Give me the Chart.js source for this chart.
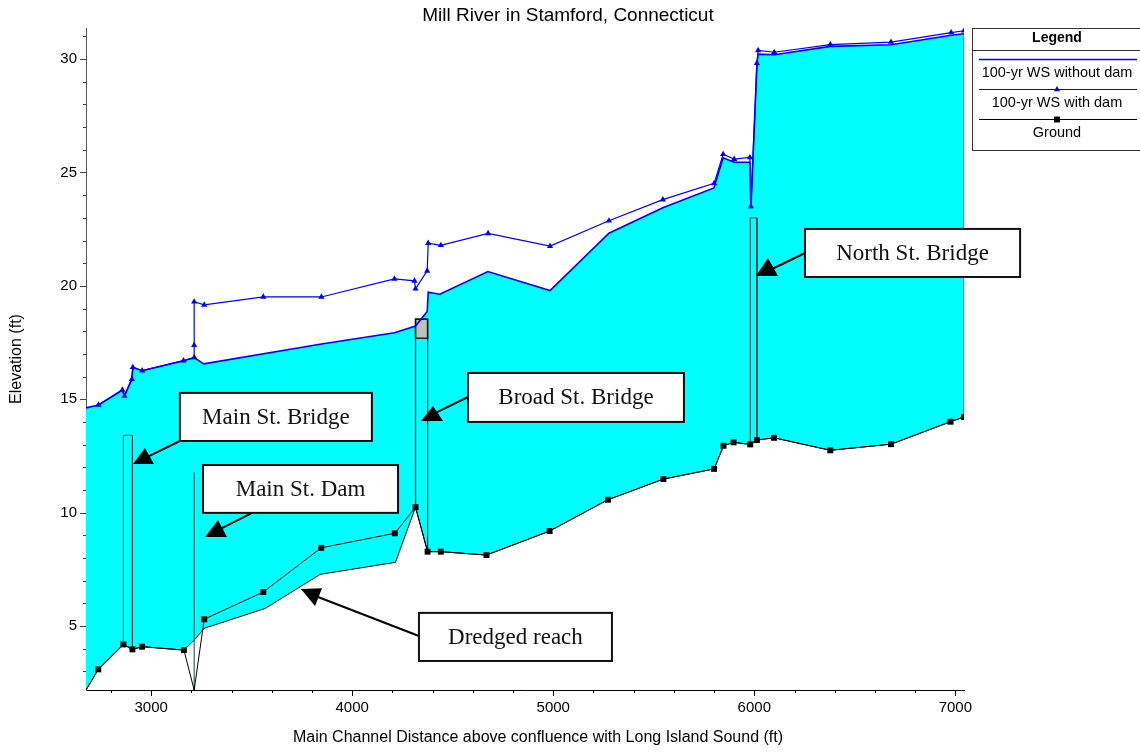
<!DOCTYPE html>
<html><head><meta charset="utf-8">
<script src="https://cdn.jsdelivr.net/npm/chart.js@4/dist/chart.umd.min.js"></script>
<style>html,body{margin:0;padding:0;background:#fff;}canvas{display:block;}</style>
</head><body>
<canvas id="c" width="1140" height="752"></canvas>
<script>
// ---------- text ----------
const chartTitle = 'Mill River in Stamford, Connecticut';
const xAxisTitle = 'Main Channel Distance above confluence with Long Island Sound (ft)';
const yAxisTitle = 'Elevation (ft)';
const legendTitle = 'Legend';
const seriesNames = ['100-yr WS without dam', '100-yr WS with dam', 'Ground'];

// ---------- axes ----------
const xRange = [2676, 7043];
const yRange = [2.18, 31.37];
const xTickStep = 200, xLabelStep = 1000;
const yTickStep = 1, yLabelStep = 5;

// ---------- series ----------
const wsNoDamX = [2676, 2738, 2857, 2867, 2904, 2909, 2955, 3161, 3214, 3262, 3847, 4210, 4315, 4373, 4378, 4436, 4675, 4984, 5277, 5545, 5799, 5845, 5900, 5978, 5983, 6013, 6019, 6099, 6378, 6680, 6979, 7043];
const wsNoDamY = [14.62, 14.75, 15.41, 15.15, 15.88, 16.41, 16.26, 16.70, 16.84, 16.56, 17.44, 17.93, 18.23, 18.87, 19.72, 19.63, 20.63, 19.79, 22.32, 23.44, 24.32, 25.65, 25.45, 25.45, 23.42, 29.75, 30.22, 30.19, 30.56, 30.63, 31.05, 31.12];

const wsDamX = [2738, 2857, 2867, 2904, 2909, 2955, 3161, 3214, 3214, 3214, 3264, 3558, 3847, 4210, 4310, 4315, 4373, 4378, 4441, 4676, 4984, 5277, 5545, 5800, 5845, 5900, 5978, 5983, 6013, 6019, 6099, 6378, 6680, 6979, 7043];
const wsDamY = [14.75, 15.41, 15.15, 15.88, 16.41, 16.26, 16.70, 16.84, 17.38, 19.30, 19.16, 19.51, 19.51, 20.31, 20.22, 19.87, 20.66, 21.88, 21.79, 22.31, 21.75, 22.87, 23.80, 24.52, 25.80, 25.59, 25.66, 23.50, 29.82, 30.38, 30.30, 30.64, 30.75, 31.17, 31.25];

const groundX = [2676, 2737, 2862, 2907, 2955, 3163, 3214, 3264, 3558, 3846, 4212, 4315, 4375, 4441, 4668, 4982, 5272, 5548, 5800, 5847, 5897, 5980, 6013, 6098, 6378, 6680, 6976, 7043];
const groundY = [2.18, 3.09, 4.19, 3.97, 4.09, 3.94, 2.18, 5.30, 6.50, 8.45, 9.09, 10.24, 8.28, 8.28, 8.13, 9.19, 10.57, 11.48, 11.93, 12.95, 13.10, 13.01, 13.20, 13.30, 12.75, 13.02, 14.01, 14.22];

// dredged channel bottom between two ground stations
const dredgeFrom = 3163, dredgeTo = 4315;
const dredgedX = [3214, 3264, 3568, 3841, 4215];
const dredgedY = [4.38, 4.90, 5.78, 7.28, 7.81];

// ---------- structures ----------
const mainStBridgeX = [2862, 2907], mainStBridgeTop = 13.41;
const mainStDamX = 3214, mainStDamTop = 11.78;
const broadStBridgeX = [4315, 4375], broadStBridgeTop = 18.53, broadStBridgeLowChord = 17.69;
const northStBridgeX = [5980, 6013], northStBridgeTop = 23.0;

// ---------- annotations (data units) ----------
const annoText  = ['Main St. Bridge', 'Main St. Dam', 'Broad St. Bridge', 'North St. Bridge', 'Dredged reach'];
const annoBoxX0 = [3143, 3258, 4576, 6252, 4332];
const annoBoxX1 = [4098, 4228, 5650, 7322, 5292];
const annoBoxYT = [15.28, 12.10, 16.16, 22.51, 5.58];
const annoBoxYB = [13.16, 9.99, 14.00, 20.39, 3.46];
const annoFromX = [3143, 3502, 4576, 6252, 4332];
const annoFromY = [13.16, 9.99, 15.10, 21.45, 4.56];
const annoToX   = [2979, 3352, 4412, 6078, 3830];
const annoToY   = [12.45, 9.32, 14.39, 20.70, 6.28];
const annoHeadX = [[2910, 2969, 3014], [3268, 3333, 3377], [4342, 4402, 4452], [6008, 6068, 6118], [3745, 3850, 3815]];
const annoHeadY = [[12.15, 12.85, 12.15], [8.93, 9.68, 8.93], [14.04, 14.70, 14.04], [20.44, 21.23, 20.44], [6.63, 6.67, 5.88]];

// ---------- helpers ----------
const zip = (xs, ys) => xs.map((x, i) => ({x, y: ys[i]}));
function groundAt(x) {
  for (let i = 0; i < groundX.length; i++) if (groundX[i] === x) return groundY[i];
  for (let i = 1; i < groundX.length; i++) {
    if (x < groundX[i]) { const t = (x - groundX[i-1]) / (groundX[i] - groundX[i-1]); return groundY[i-1] + t * (groundY[i] - groundY[i-1]); }
  }
  return groundY[groundY.length - 1];
}
function stepTicks(range, step) {
  const out = [];
  for (let v = Math.ceil(range[0] / step) * step; v <= range[1] + 1e-9; v += step) out.push({value: Math.round(v * 1000) / 1000});
  return out;
}
const channelBottom = zip(groundX, groundY).filter(p => p.x <= dredgeFrom || p.x >= dredgeTo)
  .concat(zip(dredgedX, dredgedY)).sort((a, b) => a.x - b.x);
const bridgeOutline = (xs, top) => [
  {x: xs[0], y: groundAt(xs[0])}, {x: xs[0], y: top}, {x: xs[1], y: top}, {x: xs[1], y: groundAt(xs[1])}];

const SANS = '"Liberation Sans", Arial, sans-serif';
const SERIF = '"Liberation Serif", "Times New Roman", serif';
const BLUE = '#0000ff', CYAN = '#00ffff', STRUCT = '#1d3f3f';

const lineDefaults = {tension: 0, pointRadius: 0, fill: false, spanGaps: true};

const datasets = [
  Object.assign({}, lineDefaults, {label: 'wsFill', data: zip(wsNoDamX, wsNoDamY), borderWidth: 0, borderColor: 'rgba(0,0,0,0)', backgroundColor: CYAN, fill: {target: 1}, order: 20}),
  Object.assign({}, lineDefaults, {label: 'channelBottom', data: channelBottom, borderWidth: 1, borderColor: '#000', order: 19}),
  Object.assign({}, lineDefaults, {label: 'broadLowChord', data: [
      {x: broadStBridgeX[0], y: broadStBridgeLowChord}, {x: broadStBridgeX[0], y: broadStBridgeTop},
      {x: broadStBridgeX[1], y: broadStBridgeTop}, {x: broadStBridgeX[1], y: broadStBridgeLowChord},
      {x: broadStBridgeX[0], y: broadStBridgeLowChord}], borderWidth: 1.5, borderColor: '#222', backgroundColor: '#c0c0c0', fill: 'shape', order: 18}),
  Object.assign({}, lineDefaults, {label: 'mainStBridge', data: bridgeOutline(mainStBridgeX, mainStBridgeTop), borderWidth: 1, borderColor: STRUCT, order: 17}),
  Object.assign({}, lineDefaults, {label: 'mainStDam', data: [{x: mainStDamX, y: groundAt(mainStDamX)}, {x: mainStDamX, y: mainStDamTop}], borderWidth: 1, borderColor: STRUCT, order: 17}),
  Object.assign({}, lineDefaults, {label: 'broadStBridge', data: bridgeOutline(broadStBridgeX, broadStBridgeTop), borderWidth: 1.2, borderColor: '#111', order: 17}),
  Object.assign({}, lineDefaults, {label: 'northStBridge', data: bridgeOutline(northStBridgeX, northStBridgeTop), borderWidth: 1, borderColor: STRUCT, order: 17}),
  Object.assign({}, lineDefaults, {label: 'rightEdge', data: [
      {x: groundX[groundX.length-1], y: groundY[groundY.length-1]},
      {x: wsNoDamX[wsNoDamX.length-1], y: wsNoDamY[wsNoDamY.length-1]}], borderWidth: 1, borderColor: '#555', order: 16}),
  Object.assign({}, lineDefaults, {label: seriesNames[2], data: zip(groundX, groundY), borderWidth: 1, borderColor: '#000',
      pointStyle: 'rect', pointRadius: c => (c.raw && c.raw.y <= yRange[0]) ? 0 : 4.2,
      pointBackgroundColor: '#000', pointBorderWidth: 0, legendEntry: 3, order: 3}),
  Object.assign({}, lineDefaults, {label: seriesNames[0], data: zip(wsNoDamX, wsNoDamY), borderWidth: 1.6, borderColor: BLUE, legendEntry: 1, order: 2}),
  Object.assign({}, lineDefaults, {label: seriesNames[1], data: zip(wsDamX, wsDamY), borderWidth: 1.2, borderColor: BLUE,
      pointStyle: 'triangle', pointRadius: 3.6, pointBackgroundColor: BLUE, pointBorderWidth: 0, legendEntry: 2, order: 1})
];

// ---------- plugins ----------
const decorPlugin = {
  id: 'decor',
  afterDatasetsDraw(chart) {
    const ctx = chart.ctx, xs = chart.scales.x, ys = chart.scales.y;
    const px = v => xs.getPixelForValue(v), py = v => ys.getPixelForValue(v);
    ctx.save();
    for (let i = 0; i < annoText.length; i++) {
      ctx.strokeStyle = '#000'; ctx.lineWidth = 2;
      ctx.beginPath();
      ctx.moveTo(px(annoFromX[i]), py(annoFromY[i]));
      ctx.lineTo(px(annoToX[i]), py(annoToY[i]));
      ctx.stroke();
      ctx.fillStyle = '#000';
      ctx.beginPath();
      for (let k = 0; k < 3; k++) {
        const X = px(annoHeadX[i][k]), Y = py(annoHeadY[i][k]);
        if (k) ctx.lineTo(X, Y); else ctx.moveTo(X, Y);
      }
      ctx.closePath(); ctx.fill();
      const x0 = px(annoBoxX0[i]), x1 = px(annoBoxX1[i]), y0 = py(annoBoxYT[i]), y1 = py(annoBoxYB[i]);
      ctx.fillStyle = '#fff';
      ctx.fillRect(x0, y0, x1 - x0, y1 - y0);
      ctx.strokeStyle = '#111'; ctx.lineWidth = 2;
      ctx.strokeRect(x0, y0, x1 - x0, y1 - y0);
      ctx.fillStyle = '#111';
      ctx.font = '23px ' + SERIF;
      ctx.textAlign = 'center'; ctx.textBaseline = 'middle';
      ctx.fillText(annoText[i], (x0 + x1) / 2, (y0 + y1) / 2 + 1);
    }
    ctx.restore();
  },
  afterDraw(chart) {
    const ctx = chart.ctx, xs = chart.scales.x, ys = chart.scales.y, a = chart.chartArea;
    ctx.save();
    // tick marks (longer at labelled values)
    ctx.lineWidth = 1;
    ctx.strokeStyle = '#000';
    xs.ticks.forEach(t => {
      const X = Math.round(xs.getPixelForValue(t.value)) + 0.5;
      const len = (t.value % xLabelStep === 0) ? 6 : 3;
      ctx.beginPath(); ctx.moveTo(X, a.bottom); ctx.lineTo(X, a.bottom + len); ctx.stroke();
    });
    ctx.strokeStyle = '#444';
    ys.ticks.forEach(t => {
      const Y = Math.round(ys.getPixelForValue(t.value)) + 0.5;
      const len = (t.value % yLabelStep === 0) ? 6 : 3;
      ctx.beginPath(); ctx.moveTo(a.left, Y); ctx.lineTo(a.left - len, Y); ctx.stroke();
    });
    // titles
    ctx.fillStyle = '#000';
    ctx.textAlign = 'center'; ctx.textBaseline = 'middle';
    ctx.font = '19px ' + SANS;
    ctx.fillText(chartTitle, 568, 16);
    ctx.font = '16px ' + SANS;
    ctx.fillText(xAxisTitle, 538, 738);
    ctx.save();
    ctx.translate(17, (a.top + a.bottom) / 2);
    ctx.rotate(-Math.PI / 2);
    ctx.fillText(yAxisTitle, 0, 0);
    ctx.restore();
    // legend box
    const L = 972.5, T = 28.5, R = 1146, B = 150.5;
    ctx.fillStyle = '#fff';
    ctx.fillRect(L, T, R - L, B - T);
    ctx.strokeStyle = '#333'; ctx.lineWidth = 1;
    ctx.strokeRect(L, T, R - L, B - T);
    ctx.beginPath(); ctx.moveTo(L, 50.5); ctx.lineTo(R, 50.5); ctx.stroke();
    ctx.fillStyle = '#000';
    ctx.font = 'bold 14px ' + SANS;
    ctx.fillText(legendTitle, 1057, 38);
    const entries = chart.data.datasets.filter(d => d.legendEntry).sort((p, q) => p.legendEntry - q.legendEntry);
    const lineYs = [59.5, 89.5, 119.5], textYs = [73, 103, 133];
    entries.forEach((d, i) => {
      ctx.strokeStyle = d.borderColor; ctx.lineWidth = d.borderWidth;
      ctx.beginPath(); ctx.moveTo(979, lineYs[i]); ctx.lineTo(1137, lineYs[i]); ctx.stroke();
      if (d.pointStyle) {
        ctx.fillStyle = d.pointBackgroundColor;
        Chart.helpers.drawPoint(ctx, {pointStyle: d.pointStyle, radius: d.pointStyle === 'rect' ? 4.2 : 3.6, borderWidth: 0, rotation: 0}, 1057, lineYs[i]);
      }
      ctx.fillStyle = '#000';
      ctx.font = '14.5px ' + SANS;
      ctx.fillText(d.label, 1057, textYs[i]);
    });
    ctx.restore();
  }
};

new Chart(document.getElementById('c'), {
  type: 'line',
  data: {datasets},
  options: {
    responsive: false,
    animation: false,
    events: [],
    layout: {padding: {top: 28, right: 176, left: 0, bottom: 0}},
    plugins: {legend: {display: false}, title: {display: false}, tooltip: {enabled: false}},
    scales: {
      x: {
        type: 'linear', min: xRange[0], max: xRange[1],
        afterBuildTicks: s => { s.ticks = stepTicks(xRange, xTickStep); },
        afterFit: s => { s.height = 62; },
        border: {display: true, color: '#000', width: 1},
        grid: {display: true, drawOnChartArea: false, drawTicks: true, tickLength: 6, tickColor: 'rgba(0,0,0,0)'},
        ticks: {autoSkip: false, maxRotation: 0, minRotation: 0, padding: 3,
          color: '#000', font: {family: SANS, size: 15},
          callback: v => (Math.round(v) % xLabelStep === 0) ? String(Math.round(v)) : ''}
      },
      y: {
        type: 'linear', min: yRange[0], max: yRange[1],
        afterBuildTicks: s => { s.ticks = stepTicks(yRange, yTickStep); },
        afterFit: s => { s.width = 86; },
        border: {display: true, color: '#555', width: 1},
        grid: {display: true, drawOnChartArea: false, drawTicks: true, tickLength: 6, tickColor: 'rgba(0,0,0,0)'},
        ticks: {autoSkip: false, padding: 3,
          color: '#000', font: {family: SANS, size: 15},
          callback: v => (Math.round(v) % yLabelStep === 0) ? String(Math.round(v)) : ''}
      }
    }
  },
  plugins: [decorPlugin]
});
</script>
</body></html>
